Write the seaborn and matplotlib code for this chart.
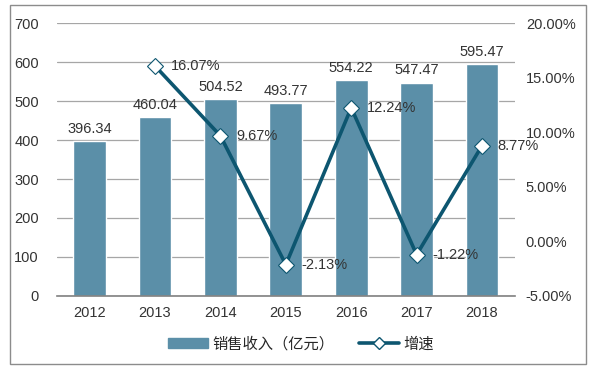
import numpy as np
import pandas as pd
import matplotlib.pyplot as plt
import seaborn as sns
from matplotlib.patches import Rectangle
from matplotlib.lines import Line2D
from matplotlib.ticker import FuncFormatter

years = ["2012", "2013", "2014", "2015", "2016", "2017", "2018"]
revenue = [396.34, 460.04, 504.52, 493.77, 554.22, 547.47, 595.47]
growth_years = ["2013", "2014", "2015", "2016", "2017", "2018"]
growth = [16.07, 9.67, -2.13, 12.24, -1.22, 8.77]

bar_color = "#5b8fa8"
line_color = "#0d5670"

sns.set_style("white")
plt.rcParams["font.family"] = ["Liberation Sans", "Noto Sans CJK SC", "DejaVu Sans"]

fig = plt.figure(figsize=(5.93, 3.78), dpi=100)
ax = fig.add_axes([0.096, 0.217, 0.772, 0.722])

df = pd.DataFrame({"year": years, "revenue": revenue})
sns.barplot(data=df, x="year", y="revenue", color=bar_color, saturation=1,
            width=0.5, ax=ax, zorder=2)
ax.set_ylim(0, 700)
ax.set_xlim(-0.5, len(years) - 0.5)
ax.set_yticks(range(0, 701, 100))
ax.yaxis.grid(True, color="#a6a6a6", linewidth=0.9, zorder=0)
ax.set_axisbelow(True)
for s in ["left", "right", "top"]:
    ax.spines[s].set_visible(False)
ax.spines["bottom"].set_color("#808080")
ax.spines["bottom"].set_linewidth(1.2)
ax.set_xlabel("")
ax.set_ylabel("")
ax.tick_params(axis="both", length=0, labelsize=10.5, colors="#333333")
ax.tick_params(axis="x", pad=7)
ax.tick_params(axis="y", pad=13)

for i, v in enumerate(revenue):
    ax.text(i, v + 13, f"{v:.2f}", ha="center", va="bottom", fontsize=10.5, color="#333333")

ax2 = ax.twinx()
gx = [years.index(y) for y in growth_years]
gdf = pd.DataFrame({"x": gx, "growth": growth})
sns.lineplot(data=gdf, x="x", y="growth", ax=ax2, color=line_color, linewidth=2.6,
             marker="D", markersize=8.5, markerfacecolor="white",
             markeredgecolor=line_color, markeredgewidth=0.8)
ax2.set_ylim(-5, 20)
ax2.set_yticks(range(-5, 21, 5))
ax2.yaxis.set_major_formatter(FuncFormatter(lambda v, p: f"{v:.2f}%"))
for s in ["left", "right", "top", "bottom"]:
    ax2.spines[s].set_visible(False)
ax2.set_xlabel("")
ax2.set_ylabel("")
ax2.tick_params(axis="y", length=0, labelsize=10.5, colors="#333333", pad=8)
ax2.set_xlim(-0.5, len(years) - 0.5)

for x, v in zip(gx, growth):
    ax2.text(x + 0.24, v, f"{v:.2f}%", ha="left", va="center", fontsize=10.5, color="#333333")

handles = [Rectangle((0, 0), 1, 1, color=bar_color),
           Line2D([0], [0], color=line_color, linewidth=2.6, marker="D", markersize=6,
                  markerfacecolor="white", markeredgecolor=line_color)]
fig.legend(handles, ["销售收入（亿元）", "增速"], loc="center", bbox_to_anchor=(0.508, 0.09),
           ncol=2, frameon=False, fontsize=11, handlelength=2.6, handleheight=0.6,
           columnspacing=1.6, handletextpad=0.3)

fig.patches.append(Rectangle((10 / 593, 1 - 364 / 378), 576 / 593, 359 / 378,
                             transform=fig.transFigure, fill=False,
                             edgecolor="#8c8c8c", linewidth=1.0))

fig.savefig("out.png", dpi=100)
